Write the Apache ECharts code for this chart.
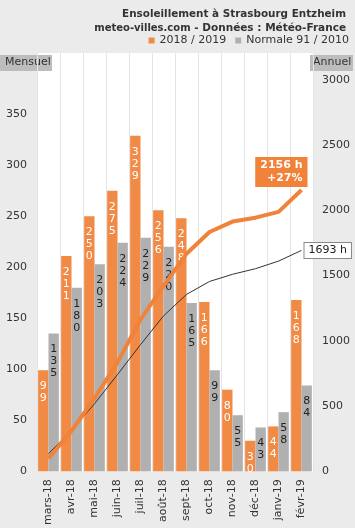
<!DOCTYPE html>
<html><head><meta charset="utf-8">
<script src="https://cdn.jsdelivr.net/npm/echarts@6/dist/echarts.min.js"></script>
<style>html,body{margin:0;padding:0;background:#ebebeb}#c{width:355px;height:528px}</style>
</head><body><div id="c"></div>
<script>
var categories = ['mars-18','avr-18','mai-18','juin-18','juil-18','août-18','sept-18','oct-18','nov-18','déc-18','janv-19','févr-19'];
var monthly2018 = [99,211,250,275,329,256,248,166,80,30,44,168];
var monthlyNormal = [135,180,203,224,229,220,165,99,55,43,58,84];
var cumul2018 = [99,310,560,835,1164,1420,1668,1834,1914,1944,1988,2156];
var cumulNormal = [135,315,518,742,971,1191,1356,1455,1510,1553,1611,1693];
var leftTicks = [0,50,100,150,200,250,300,350];
var rightTicks = [0,500,1000,1500,2000,2500,3000];

var F = 'DejaVu Sans';
var chart = echarts.init(document.getElementById('c'), null, {renderer:'canvas'});
function vert(v){ return String(v).split('').join('\n'); }
chart.setOption({
  backgroundColor:'#ebebeb',
  animation:false,
  textStyle:{fontFamily:F},
  title:[
    {text:'Ensoleillement à Strasbourg Entzheim', right:4, top:4,
     textStyle:{fontFamily:F,fontSize:10.4,fontWeight:'bold',color:'#333'}},
    {text:'{b|meteo-villes.com}{n| - Données : Météo-France}', right:4, top:18,
     textStyle:{rich:{b:{fontFamily:F,fontSize:10,fontWeight:'bold',color:'#333'},n:{fontFamily:F,fontSize:10.5,color:'#333'}}}}
  ],
  legend:{right:1, top:30, itemWidth:6, itemHeight:6, itemGap:9, icon:'rect',
    data:['2018 / 2019','Normale 91 / 2010'],
    textStyle:{fontFamily:F,fontSize:11,color:'#333',padding:[0,0,0,0]}},
  grid:{left:37,right:42,top:53,bottom:55,show:true,backgroundColor:'#fff',borderWidth:0},
  xAxis:{type:'category',data:categories,boundaryGap:true,
    axisLine:{show:false},axisTick:{show:false},
    splitLine:{show:true,interval:0,lineStyle:{color:'#e4e4e4',width:1}},
    axisLabel:{rotate:90,interval:0,fontFamily:F,fontSize:11,color:'#333',margin:8}},
  yAxis:[
    {type:'value',min:0,max:410,interval:50,position:'left',
     axisLine:{show:false},axisTick:{show:false},splitLine:{show:false},
     axisLabel:{fontFamily:F,fontSize:11,color:'#333',margin:10,showMaxLabel:false,
       formatter:function(v){return leftTicks.indexOf(v)>=0?String(v):'';}}},
    {type:'value',min:0,max:3206,interval:500,position:'right',
     axisLine:{show:false},axisTick:{show:false},splitLine:{show:false},
     axisLabel:{fontFamily:F,fontSize:11,color:'#333',margin:9,showMaxLabel:false,
       formatter:function(v){return rightTicks.indexOf(v)>=0?String(v):'';}}}
  ],
  graphic:[
    {type:'rect',left:0,top:55,shape:{width:52,height:16},style:{fill:'#bdbdbd'}},
    {type:'text',left:5,top:57,style:{text:'Mensuel',font:'11px "DejaVu Sans"',fill:'#333'}},
    {type:'rect',left:310,top:55,shape:{width:43,height:16},style:{fill:'#bdbdbd'}},
    {type:'text',left:313,top:57,style:{text:'Annuel',font:'11px "DejaVu Sans"',fill:'#333'}}
  ],
  series:[
    {name:'2018 / 2019',type:'bar',data:monthly2018,barGap:'0%',barCategoryGap:'10%',
     itemStyle:{color:'#f08a45'},z:2,
     label:{show:true,position:'insideTop',distance:10,formatter:function(p){return vert(p.value);},
       color:'#fff',fontFamily:F,fontSize:11,lineHeight:12}},
    {name:'Normale 91 / 2010',type:'bar',data:monthlyNormal,
     itemStyle:{color:'#b0b0b0'},z:2,
     label:{show:true,position:'insideTop',distance:10,formatter:function(p){return vert(p.value);},
       color:'#222',fontFamily:F,fontSize:11,lineHeight:12}},
    {name:'cumul2018',type:'line',yAxisIndex:1,data:cumul2018,symbol:'none',z:5,
     lineStyle:{color:'#f0823a',width:4},
     endLabel:{show:true,formatter:function(p){return p.value+' h\n+27%';},
       backgroundColor:'#f0823a',color:'#fff',fontFamily:F,fontSize:11,fontWeight:'bold',
       padding:[2,5,2,5],lineHeight:13,align:'right',verticalAlign:'bottom',offset:[-2,-3]}},
    {name:'cumulNormal',type:'line',yAxisIndex:1,data:cumulNormal,symbol:'none',z:4,
     lineStyle:{color:'#333',width:1},
     endLabel:{show:true,formatter:function(p){return p.value+' h';},
       backgroundColor:'#fff',borderColor:'#888',borderWidth:1,color:'#222',fontFamily:F,fontSize:11,
       padding:[2,4,2,4],distance:3}}
  ]
});
</script></body></html>
